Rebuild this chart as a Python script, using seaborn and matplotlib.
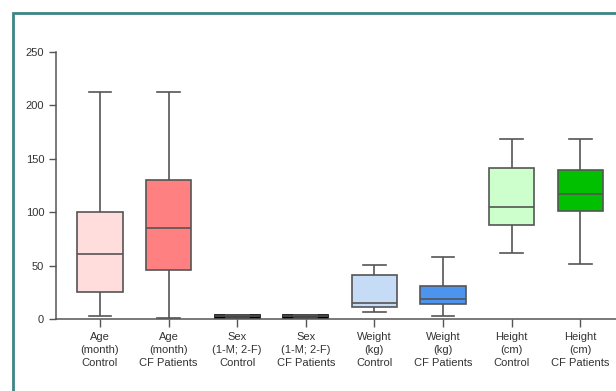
import numpy as np
import pandas as pd
import seaborn as sns
import matplotlib.pyplot as plt
from matplotlib.patches import Rectangle, PathPatch

# five-number summaries: min, q1, median, q3, max
groups = ['Age\n(month)\nControl', 'Age\n(month)\nCF Patients',
          'Sex\n(1-M; 2-F)\nControl', 'Sex\n(1-M; 2-F)\nCF Patients',
          'Weight\n(kg)\nControl', 'Weight\n(kg)\nCF Patients',
          'Height\n(cm)\nControl', 'Height\n(cm)\nCF Patients']
age_control = [3, 25.5, 61, 100, 212.5]
age_cf = [1, 46, 85, 130, 212.5]
sex_control = [0.5, 0.5, 2.5, 4.2, 4.2]
sex_cf = [0.5, 0.5, 2.5, 4.2, 4.2]
weight_control = [6.8, 11.5, 15, 41.5, 50.5]
weight_cf = [2.8, 13.7, 18.7, 31.2, 57.8]
height_control = [62, 88, 104.5, 141.7, 168]
height_cf = [51.5, 101, 117, 139.8, 168]
colors = ['#FFDDDD', '#FF8080', '#000000', '#000000',
          '#C6DCF6', '#4D94EE', '#CCFFCC', '#00C000']

series = [age_control, age_cf, sex_control, sex_cf,
          weight_control, weight_cf, height_control, height_cf]
df = pd.DataFrame({
    'group': np.repeat(groups, 5),
    'value': np.concatenate(series),
})

plt.rcParams['font.family'] = ['Liberation Sans', 'DejaVu Sans']
fig = plt.figure(figsize=(6.16, 3.91), dpi=100)
ax = fig.add_axes([56 / 616, 72 / 391, 560 / 616, 0.70])

sns.boxplot(data=df, x='group', y='value', hue='group', order=groups,
            hue_order=groups, palette=colors, saturation=1, legend=False,
            dodge=False, whis=(0, 100), width=0.66, linecolor='#555555',
            linewidth=1.2, showfliers=False, ax=ax)

# the sex boxes are drawn all black in the original
boxes = [p for p in ax.patches if isinstance(p, PathPatch)]
for i in (2, 3):
    if i < len(boxes):
        boxes[i].set_edgecolor('black')

ax.set_xlim(-0.64, 7.52)
ax.set_ylim(0, 256)
ax.set_yticks([0, 50, 100, 150, 200, 250])
ax.spines['left'].set_bounds(0, 250)
for s in ['top', 'right']:
    ax.spines[s].set_visible(False)
for s in ['left', 'bottom']:
    ax.spines[s].set_color('#555555')
    ax.spines[s].set_linewidth(1.1)
ax.tick_params(axis='both', colors='#555555', labelcolor='#333333',
               labelsize=8, width=1, length=5)
ax.tick_params(axis='x', length=6)
for lab in ax.get_xticklabels():
    lab.set_linespacing(1.35)
ax.set_xlabel('')
ax.set_ylabel('')

# teal frame around the panel
fig.patches.append(Rectangle((13 / 616, -0.1), 1.2, 1 - 13 / 391 + 0.1,
                             transform=fig.transFigure, fill=False,
                             edgecolor='#3f8585', linewidth=2))

fig.savefig('out.png', dpi=100)
